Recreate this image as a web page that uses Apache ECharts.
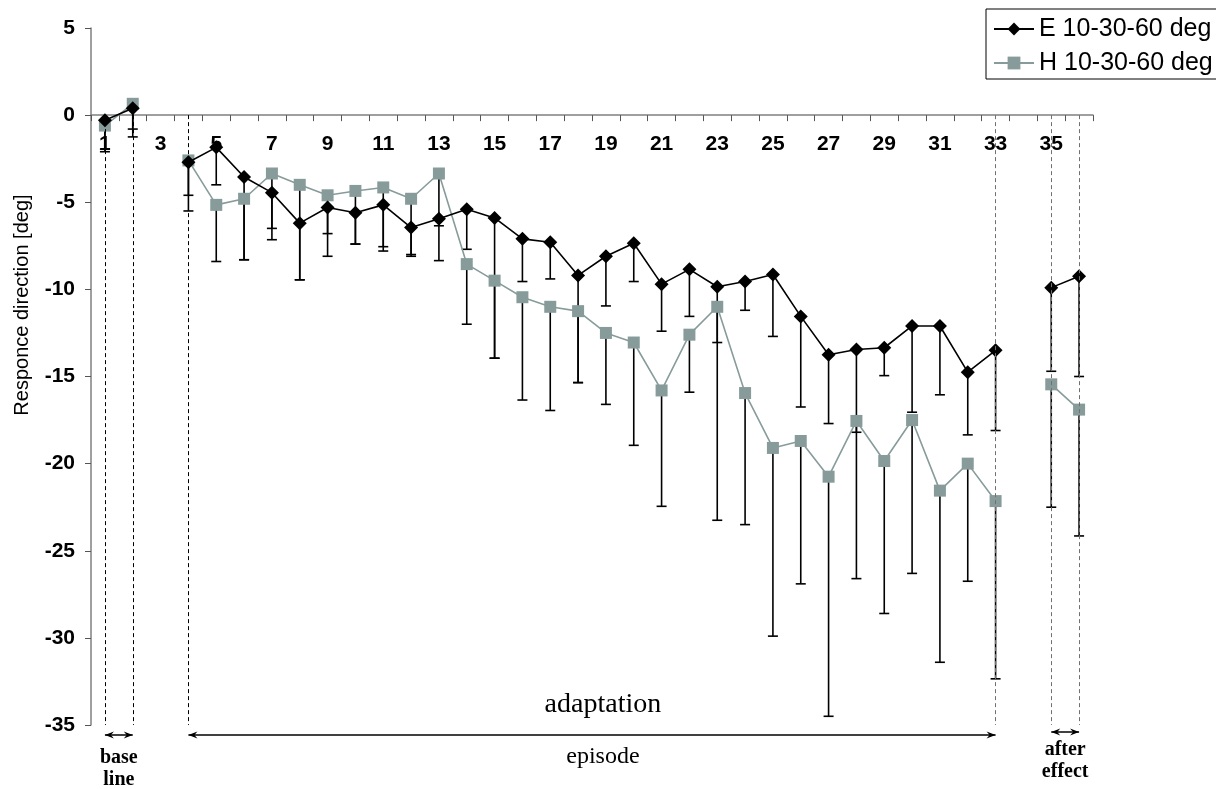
<!DOCTYPE html>
<html><head><meta charset="utf-8">
<script src="https://cdn.jsdelivr.net/npm/echarts@6/dist/echarts.min.js"></script>
<style>html,body{margin:0;padding:0;background:#fff}#c{width:1216px;height:789px}</style>
</head><body><div id="c"></div>
<script>
// ---- data ----
const categories = ['1','2','3','4','5','6','7','8','9','10','11','12','13','14','15','16','17','18',
  '19','20','21','22','23','24','25','26','27','28','29','30','31','32','33','34','35','36'];
const yTicks = [-35, -30, -25, -20, -15, -10, -5, 0, 5];
const seriesNames = ['E 10-30-60 deg', 'H 10-30-60 deg'];
// E: mean response direction and the lower end of its error bar
const eMean = [-0.3, 0.4, null, -2.7, -1.85, -3.55, -4.45, -6.2, -5.3, -5.6, -5.15, -6.45, -5.95, -5.4, -5.9, -7.1, -7.3, -9.2,
  -8.1, -7.35, -9.7, -8.85, -9.85, -9.55, -9.15, -11.55, -13.75, -13.45, -13.35, -12.1, -12.1, -14.75, -13.5, null, -9.9, -9.25];
const eLow = [-1.95, -0.8, null, -4.6, -4.0, -8.3, -6.5, -9.45, -8.1, -7.4, -7.55, -8.0, -8.35, -7.7, -13.95, -9.55, -9.4, -15.35,
  -10.95, -9.55, -12.4, -11.55, -13.05, -11.2, -12.7, -16.75, -17.7, -18.2, -14.95, -17.05, -16.05, -18.35, -18.1, null, -14.7, -15.0];
// H: mean response direction and the lower end of its error bar
const hMean = [-0.6, 0.65, null, -2.6, -5.15, -4.8, -3.35, -4.0, -4.6, -4.35, -4.15, -4.8, -3.35, -8.55, -9.5, -10.45, -11.0, -11.25,
  -12.5, -13.05, -15.8, -12.6, -11.0, -15.95, -19.1, -18.7, -20.75, -17.55, -19.85, -17.5, -21.55, -20.0, -22.15, null, -15.45, -16.9];
const hLow = [-2.1, -1.25, null, -5.5, -8.4, -8.3, -7.15, -9.45, -6.8, -7.4, -7.8, -8.1, -6.35, -12.0, -13.95, -16.35, -16.95, -15.35,
  -16.6, -18.95, -22.45, -15.9, -23.25, -23.5, -29.9, -26.9, -34.5, -26.6, -28.6, -26.3, -31.4, -26.75, -32.35, null, -22.5, -24.15];
// phase boundaries (category names)
const baselineCats = ['1', '2'];
const episodeCats = ['4', '33'];
const afterCats = ['35', '36'];

// ---- chart ----
const SANS = '"Liberation Sans", Arial, sans-serif';
const SERIF = '"Liberation Serif", "Times New Roman", serif';
const GRAY = '#879b9b';
const GRID = {left: 91, right: 123, top: 28, bottom: 64};
const H = 789;
const yMin = yTicks[0], yMax = yTicks[yTicks.length - 1];
// the category axis sits on the zero line: shift it down from the top edge of the grid
const zeroOffset = -(H - GRID.top - GRID.bottom) * (yMax - 0) / (yMax - yMin);

function errData(mean, low) {
  const out = [];
  mean.forEach((m, i) => { if (m != null && low[i] != null) out.push([i, m, low[i]]); });
  return out;
}
function renderErr(params, api) {
  const i = api.value(0);
  const top = api.coord([i, api.value(1)]);
  const bot = api.coord([i, api.value(2)]);
  const hw = 5;
  return {type: 'group', children: [
    {type: 'line', shape: {x1: top[0], y1: top[1], x2: bot[0], y2: bot[1]}, style: {stroke: '#000', lineWidth: 1.6}},
    {type: 'line', shape: {x1: bot[0] - hw, y1: bot[1], x2: bot[0] + hw, y2: bot[1]}, style: {stroke: '#000', lineWidth: 1.6}}
  ]};
}
function vline(cat, color) {
  return [{coord: [cat, 0], lineStyle: {color: color}}, {coord: [cat, yMin]}];
}

const chart = echarts.init(document.getElementById('c'), null, {renderer: 'canvas'});
const option = {
  animation: false,
  backgroundColor: '#fff',
  grid: Object.assign({outerBoundsMode: 'none', containLabel: false}, GRID),
  legend: {
    orient: 'vertical', left: 986, top: 9, padding: [7, 4, 3, 7],
    itemWidth: 40, itemHeight: 16, itemGap: 8,
    backgroundColor: '#fff', borderColor: '#000', borderWidth: 1, borderRadius: 0,
    textStyle: {fontSize: 25, fontFamily: SANS, color: '#000', lineHeight: 26},
    data: seriesNames
  },
  xAxis: {
    type: 'category', data: categories, boundaryGap: true,
    position: 'top', offset: zeroOffset,
    axisLine: {onZero: false, lineStyle: {color: '#808080', width: 1.5}},
    axisTick: {show: true, interval: 0, length: 6, inside: true, lineStyle: {color: '#555', width: 1}},
    axisLabel: {interval: 1, inside: true, fontSize: 21, fontWeight: 'bold', fontFamily: SANS, color: '#000', margin: 19},
    splitLine: {show: false}
  },
  yAxis: {
    type: 'value', min: yMin, max: yMax, interval: 5,
    axisLine: {show: true, onZero: false, lineStyle: {color: '#808080', width: 1.5}},
    axisTick: {show: true, length: 6, lineStyle: {color: '#555', width: 1}},
    axisLabel: {fontSize: 21, fontWeight: 'bold', fontFamily: SANS, color: '#000', margin: 16},
    splitLine: {show: false}
  },
  series: [
    {
      type: 'custom', name: 'errE', data: errData(eMean, eLow), renderItem: renderErr,
      encode: {x: 0, y: [1, 2]}, z: 1, silent: true
    },
    {
      type: 'custom', name: 'errH', data: errData(hMean, hLow), renderItem: renderErr,
      encode: {x: 0, y: [1, 2]}, z: 1, silent: true
    },
    {
      type: 'line', name: seriesNames[1], data: hMean, connectNulls: false,
      symbol: 'rect', symbolSize: 12,
      itemStyle: {color: GRAY}, lineStyle: {color: GRAY, width: 1.6}, z: 3
    },
    {
      type: 'line', name: seriesNames[0], data: eMean, connectNulls: false,
      symbol: 'diamond', symbolSize: 14,
      itemStyle: {color: '#000'}, lineStyle: {color: '#000', width: 1.6}, z: 4,
      markLine: {
        silent: true, symbol: 'none', label: {show: false},
        lineStyle: {type: [4, 3], width: 1, color: '#000'},
        data: [
          vline(baselineCats[0], '#000'), vline(baselineCats[1], '#000'), vline(episodeCats[0], '#000'),
          vline(episodeCats[1], '#707070'), vline(afterCats[0], '#707070'), vline(afterCats[1], '#707070')
        ]
      }
    }
  ]
};
chart.setOption(option);

// ---- annotations positioned through the axes ----
const px = (cat, v) => chart.convertToPixel({xAxisIndex: 0, yAxisIndex: 0}, [cat, v]);
const yBottom = px('1', yMin)[1];
function arrow(x1, x2, y) {
  const els = [{type: 'line', shape: {x1: x1, y1: y, x2: x2, y2: y}, style: {stroke: '#000', lineWidth: 1.5}}];
  [[x1, 1], [x2, -1]].forEach(([x, d]) => {
    els.push({type: 'polygon', shape: {points: [[x, y], [x + d * 9, y - 3.5], [x + d * 6, y], [x + d * 9, y + 3.5]]},
      style: {fill: '#000'}});
  });
  return els;
}
function label(text, x, y, font) {
  return {type: 'text', x: x, y: y, style: {text: text, font: font, fill: '#000',
    align: 'center', verticalAlign: 'middle', textAlign: 'center', textVerticalAlign: 'middle'}};
}
const b1 = px(baselineCats[0], 0)[0], b2 = px(baselineCats[1], 0)[0];
const e1 = px(episodeCats[0], 0)[0], e2 = px(episodeCats[1], 0)[0];
const a1 = px(afterCats[0], 0)[0], a2 = px(afterCats[1], 0)[0];
const epiX = px('19', 0)[0] - 3;
const gEls = []
  .concat(arrow(b1, b2, yBottom + 10))
  .concat(arrow(e1, e2, yBottom + 10))
  .concat(arrow(a1, a2, yBottom + 7))
  .concat([
    label('base', (b1 + b2) / 2, yBottom + 33, 'bold 20px ' + SERIF),
    label('line', (b1 + b2) / 2, yBottom + 55, 'bold 20px ' + SERIF),
    label('episode', epiX, yBottom + 32, '24px ' + SERIF),
    label('adaptation', epiX, yBottom - 20, '28px ' + SERIF),
    label('after', (a1 + a2) / 2, yBottom + 25, 'bold 20px ' + SERIF),
    label('effect', (a1 + a2) / 2, yBottom + 47, 'bold 20px ' + SERIF),
    {type: 'text', x: 22, y: px('1', -10.9)[1], rotation: Math.PI / 2,
      style: {text: 'Responce direction [deg]', font: '20px ' + SANS, fill: '#000',
        align: 'center', verticalAlign: 'middle', textAlign: 'center', textVerticalAlign: 'middle'}}
  ]);
chart.setOption({graphic: gEls.map(e => Object.assign({silent: true}, e))});
</script>
</body></html>
